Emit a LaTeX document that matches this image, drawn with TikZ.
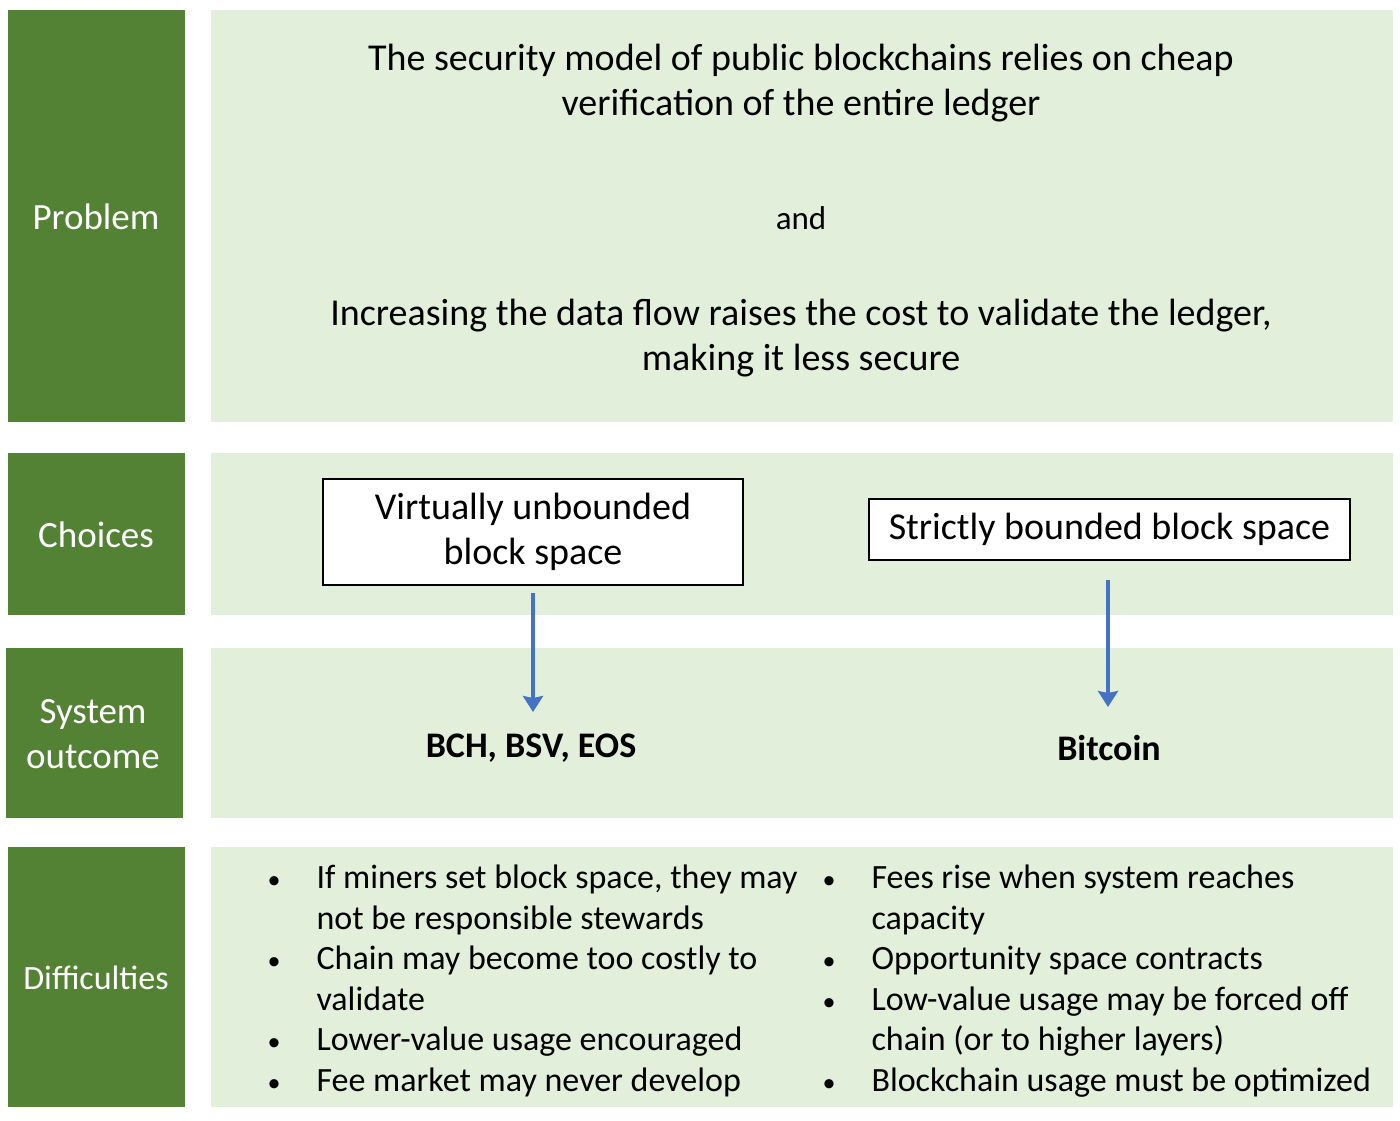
\documentclass[tikz,border=0pt]{standalone}
\usepackage{fontspec}
\setmainfont{Carlito}
\usetikzlibrary{arrows.meta}
\definecolor{dg}{HTML}{548235}
\definecolor{lg}{HTML}{E2EFDA}
\definecolor{ab}{HTML}{4472C4}
\tikzset{x=1pt,y=-1pt,
 wbox/.style={draw=black,line width=1.2pt,fill=white,font=\fontsize{38}{45}\selectfont,align=center,inner sep=0pt},
 txt/.style={font=\fontsize{38}{45}\selectfont,align=center},
 bul/.style={font=\fontsize{34}{41}\selectfont,anchor=base west},
 arr/.style={draw=ab,line width=3.5pt,-{Stealth[length=16pt,width=20pt,inset=2pt]}}}
\begin{document}
\begin{tikzpicture}
\useasboundingbox (0,0) rectangle (1400,1120);
\fill[dg] (8,10) rectangle (185,422);
\fill[dg] (8,453) rectangle (185,615);
\fill[dg] (6,648) rectangle (183,818);
\fill[dg] (8,847) rectangle (185,1107);
\fill[lg] (211,10) rectangle (1393,422);
\fill[lg] (211,453) rectangle (1393,615);
\fill[lg] (211,648) rectangle (1393,818);
\fill[lg] (211,847) rectangle (1393,1107);
\node[text=white,font=\fontsize{37}{40}\selectfont] (p) at (96,217) {Problem};
\node[text=white,font=\fontsize{37}{40}\selectfont] (c) at (96,535) {Choices};
\node[text=white,font=\fontsize{37}{45}\selectfont,align=center] (s) at (93,734) {System\\outcome};
\node[text=white,font=\fontsize{34}{40}\selectfont] (d) at (96,978) {Difficulties};
\node[txt] (t1) at (801,83) {The security model of public blockchains relies on cheap\\verification of the entire ledger};
\node[font=\fontsize{33}{40}\selectfont] (and) at (801,218) {and};
\node[txt] (t2) at (801,338) {Increasing the data flow raises the cost to validate the ledger,\\making it less secure};
\node[wbox,minimum width=420pt,minimum height=106pt] (v) at (533,532) {Virtually unbounded\\block space};
\node[wbox,minimum width=481pt,minimum height=61pt] (b) at (1109.5,529.5) {Strictly bounded block space};
\node[font=\fontsize{36}{40}\selectfont\bfseries] (o1) at (531,748) {BCH, BSV, EOS};
\node[font=\fontsize{36}{40}\selectfont\bfseries] (o2) at (1109,748) {Bitcoin};
\coordinate (a1) at (533,593); \coordinate (a1e) at (533,712);
\coordinate (a2) at (1108,580); \coordinate (a2e) at (1108,707);
\draw[arr] (a1) -- (a1e);
\draw[arr] (a2) -- (a2e);
\foreach \y/\d/\t in {888/1/{If miners set block space, they may},929/0/not be responsible stewards,969/1/Chain may become too costly to,1010/0/validate,1050/1/Lower-value usage encouraged,1091/1/Fee market may never develop}{
 \node[bul] at (313,\y) {\t};
 \ifnum\d=1 \node[font=\fontsize{26}{30}\selectfont,anchor=base west] at (264,\y) {•};\fi}
\foreach \y/\d/\t in {888/1/Fees rise when system reaches,929/0/capacity,969/1/Opportunity space contracts,1010/1/Low-value usage may be forced off,1050/0/chain (or to higher layers),1091/1/Blockchain usage must be optimized}{
 \node[bul] at (868,\y) {\t};
 \ifnum\d=1 \node[font=\fontsize{26}{30}\selectfont,anchor=base west] at (819,\y) {•};\fi}
\end{tikzpicture}
\end{document}
